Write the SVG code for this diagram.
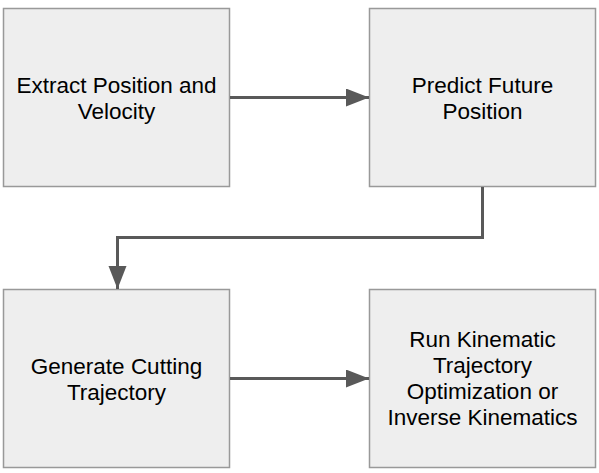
<svg xmlns="http://www.w3.org/2000/svg" width="599" height="473" viewBox="0 0 599 473">
<defs>
<style>
.box{fill:#eeeeee;stroke:#999999;stroke-width:1.5}
.lbl{font-family:"Liberation Sans",Arial,sans-serif;font-size:22.5px;fill:#000;text-anchor:middle}
.conn{fill:none;stroke:#595959;stroke-width:3}
</style>
<marker id="ah" markerUnits="userSpaceOnUse" markerWidth="24" markerHeight="20" refX="23" refY="9" orient="auto">
<path d="M0,0 L23,9 L0,18 Z" fill="#595959"/>
</marker>
</defs>
<rect width="599" height="473" fill="#ffffff"/>
<g id="n1"><rect class="box" x="3.5" y="8.5" width="226" height="178"/>
<text class="lbl" x="116.5" y="93">Extract Position and</text>
<text class="lbl" x="116.5" y="119">Velocity</text></g>
<g id="n2"><rect class="box" x="369.5" y="8.5" width="226" height="178"/>
<text class="lbl" x="482.5" y="93">Predict Future</text>
<text class="lbl" x="482.5" y="119">Position</text></g>
<g id="n3"><rect class="box" x="3.5" y="289.5" width="226" height="178"/>
<text class="lbl" x="116.5" y="374">Generate Cutting</text>
<text class="lbl" x="116.5" y="400">Trajectory</text></g>
<g id="n4"><rect class="box" x="369.5" y="289.5" width="226" height="178"/>
<text class="lbl" x="482.5" y="347">Run Kinematic</text>
<text class="lbl" x="482.5" y="373">Trajectory</text>
<text class="lbl" x="482.5" y="399">Optimization or</text>
<text class="lbl" x="482.5" y="425">Inverse Kinematics</text></g>
<g id="connectors">
<path class="conn" d="M230,97.5 L369,97.5" marker-end="url(#ah)"/>
<path class="conn" d="M482.5,187 L482.5,237.5 L117.5,237.5 L117.5,289" marker-end="url(#ah)"/>
<path class="conn" d="M230,378.5 L369,378.5" marker-end="url(#ah)"/>
</g>
</svg>
